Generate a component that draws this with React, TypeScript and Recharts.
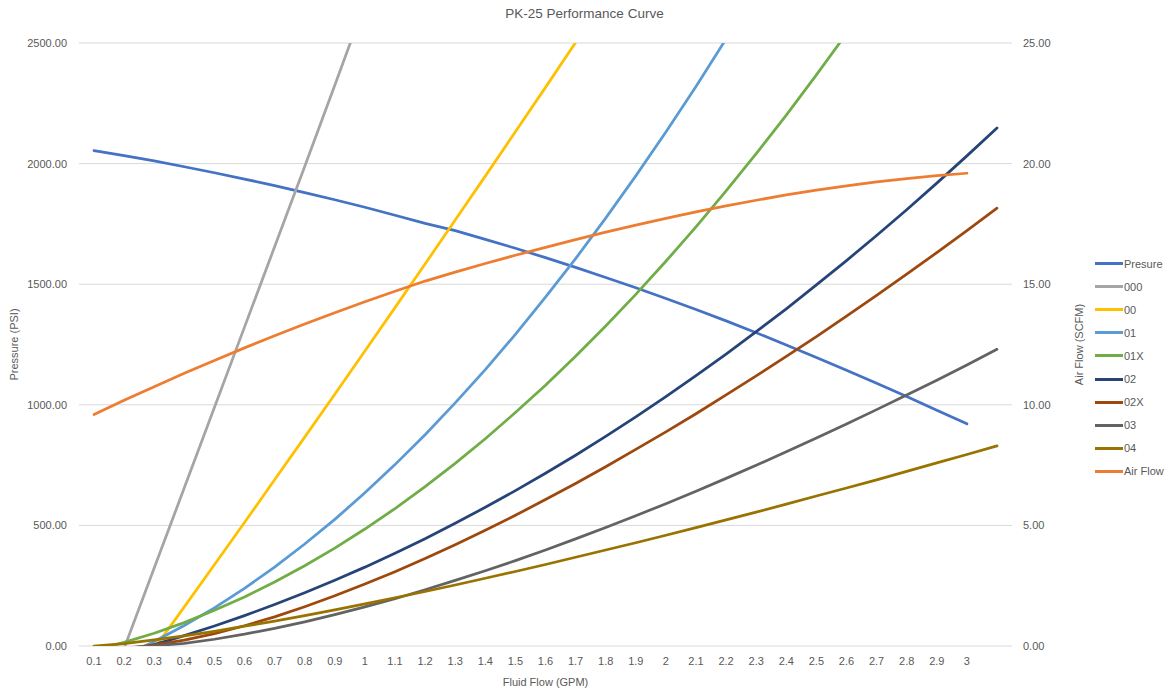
import { LineChart, Line, XAxis, YAxis, CartesianGrid, Legend } from "recharts";

const FONT = '"Liberation Sans", Arial, sans-serif';
const TEXT = "#595959";

// fluid flow (GPM) categories, the last one carries no label
const flow = [
  "0.1", "0.2", "0.3", "0.4", "0.5", "0.6", "0.7", "0.8", "0.9", "1",
  "1.1", "1.2", "1.3", "1.4", "1.5", "1.6", "1.7", "1.8", "1.9", "2",
  "2.1", "2.2", "2.3", "2.4", "2.5", "2.6", "2.7", "2.8", "2.9", "3", "",
];

const presure = [
  2054, 2033, 2011, 1987, 1962, 1936, 1909, 1880, 1850, 1819,
  1786, 1752, 1722, 1686, 1649, 1610, 1570, 1528, 1485, 1441,
  1395, 1348, 1299, 1248, 1196, 1143, 1089, 1034, 977, 921,
];
const n000 = [
  -343, -10, 323, 656, 989, 1322, 1655, 1988, 2325, 2665,
  3010, 3360, 3715, 4075, 4440, 4810, 5185, 5565, 5950, 6340,
  6735, 7135, 7540, 7950, 8365, 8785, 9210, 9640, 10075, 10515, 10960,
];
const n00 = [
  -356, -184, -11, 162, 337, 512, 689, 866, 1044, 1223,
  1403, 1584, 1766, 1948, 2132, 2316, 2502, 2688, 2875, 3063,
  3252, 3442, 3633, 3824, 4017, 4210, 4405, 4600, 4796, 4993, 5191,
];
const n01 = [
  -93, -41, 19, 85, 158, 239, 327, 423, 525, 635,
  752, 876, 1008, 1146, 1292, 1446, 1606, 1774, 1949, 2131,
  2320, 2517, 2721, 2932, 3150, 3376, 3609, 3849, 4096, 4351, 4613,
];
const n01X = [
  -18, 15, 53, 97, 148, 203, 265, 333, 406, 485,
  570, 661, 757, 859, 968, 1081, 1201, 1327, 1458, 1595,
  1738, 1887, 2041, 2201, 2368, 2539, 2717, 2901, 3090, 3285, 3486,
];
const n02 = [
  -59, -28, 6, 43, 83, 126, 172, 221, 273, 327,
  385, 445, 509, 575, 644, 716, 791, 869, 950, 1034,
  1121, 1210, 1303, 1398, 1497, 1598, 1702, 1809, 1919, 2032, 2148,
];
const n02X = [
  -35, -12, 5, 24, 51, 84, 121, 163, 208, 257,
  308, 363, 420, 480, 542, 607, 674, 743, 815, 888,
  963, 1041, 1120, 1201, 1283, 1368, 1454, 1542, 1631, 1722, 1815,
];
const n03 = [
  -25, -8, 1, 11, 28, 49, 73, 100, 130, 162,
  196, 233, 272, 312, 354, 398, 444, 491, 540, 590,
  642, 695, 749, 805, 862, 920, 980, 1041, 1102, 1165, 1230,
];
const n04 = [
  0, 10, 25, 42, 61, 82, 103, 126, 150, 175,
  200, 226, 253, 281, 309, 338, 368, 398, 428, 459,
  491, 523, 555, 588, 622, 655, 689, 724, 759, 794, 830,
];
const airFlow = [
  9.6, 10.19, 10.75, 11.31, 11.84, 12.36, 12.86, 13.35, 13.82, 14.27,
  14.71, 15.13, 15.5, 15.86, 16.2, 16.53, 16.85, 17.16, 17.45, 17.73,
  18.0, 18.25, 18.48, 18.7, 18.9, 19.08, 19.24, 19.38, 19.5, 19.6,
];

const pressureTicks = [0, 500, 1000, 1500, 2000, 2500];
const airTicks = [0, 5, 10, 15, 20, 25];

const seriesList = [
  { name: "Presure", values: presure, color: "#4472C4", axis: "left" },
  { name: "000", values: n000, color: "#A5A5A5", axis: "left" },
  { name: "00", values: n00, color: "#FFC000", axis: "left" },
  { name: "01", values: n01, color: "#5B9BD5", axis: "left" },
  { name: "01X", values: n01X, color: "#70AD47", axis: "left" },
  { name: "02", values: n02, color: "#264478", axis: "left" },
  { name: "02X", values: n02X, color: "#9E480E", axis: "left" },
  { name: "03", values: n03, color: "#636363", axis: "left" },
  { name: "04", values: n04, color: "#997300", axis: "left" },
  { name: "Air Flow", values: airFlow, color: "#ED7D31", axis: "right" },
];

const rows = flow.map((f, i) => {
  const row: any = { flow: f };
  seriesList.forEach((s) => {
    row[s.name] = i < s.values.length ? s.values[i] : null;
  });
  return row;
});

const tickStyle = { fontFamily: FONT, fontSize: 11, fill: TEXT };

const VerticalTitle = (props: any) => {
  const { viewBox, value, dx } = props;
  const x = viewBox.x + dx;
  const y = viewBox.y + viewBox.height / 2;
  return (
    <text
      x={x}
      y={y}
      transform={`rotate(-90, ${x}, ${y})`}
      textAnchor="middle"
      dominantBaseline="central"
      fontFamily={FONT}
      fontSize={11}
      fill={TEXT}
    >
      {value}
    </text>
  );
};

const BottomTitle = (props: any) => {
  const { viewBox } = props;
  return (
    <text
      x={viewBox.x + viewBox.width / 2}
      y={682}
      textAnchor="middle"
      dominantBaseline="central"
      fontFamily={FONT}
      fontSize={11}
      fill={TEXT}
    >
      Fluid Flow (GPM)
    </text>
  );
};

const renderLegend = () => (
  <div style={{ width: 72, fontFamily: FONT, fontSize: 11, color: TEXT }}>
    {seriesList.map((s) => (
      <div key={s.name} style={{ display: "flex", alignItems: "center", height: 23.1 }}>
        <span style={{ display: "inline-block", width: 28, height: 3, background: s.color, marginRight: 1 }} />
        <span>{s.name}</span>
      </div>
    ))}
  </div>
);

export default function App() {
  return (
    <div style={{ position: "absolute", left: 0, top: 0, width: 1169, height: 692, background: "#fff" }}>
      <div
        style={{
          position: "absolute",
          left: 0,
          top: 6,
          width: 1169,
          textAlign: "center",
          fontFamily: FONT,
          fontSize: 13.5,
          color: TEXT,
          zIndex: 2,
        }}
      >
        PK-25 Performance Curve
      </div>
      <LineChart
        width={1169}
        height={692}
        data={rows}
        margin={{ top: 43, right: 10, bottom: 0, left: 0 }}
      >
        <CartesianGrid yAxisId="left" vertical={false} stroke="#D9D9D9" />
        <XAxis
          dataKey="flow"
          interval={0}
          padding={{ left: 15, right: 15 }}
          tickLine={false}
          axisLine={false}
          tickSize={0}
          tickMargin={11}
          height={46}
          tick={tickStyle}
          label={<BottomTitle />}
        />
        <YAxis
          yAxisId="left"
          width={79}
          domain={[0, 2500]}
          ticks={pressureTicks}
          allowDataOverflow
          tickFormatter={(v: number) => v.toFixed(2)}
          tickLine={false}
          axisLine={false}
          tickSize={0}
          tickMargin={12}
          tick={tickStyle}
          label={<VerticalTitle value="Pressure (PSI)" dx={14} />}
        />
        <YAxis
          yAxisId="right"
          orientation="right"
          width={75}
          domain={[0, 25]}
          ticks={airTicks}
          allowDataOverflow
          tickFormatter={(v: number) => v.toFixed(2)}
          tickLine={false}
          axisLine={false}
          tickSize={0}
          tickMargin={11}
          tick={{ ...tickStyle, textAnchor: "start" }}
          label={<VerticalTitle value="Air Flow (SCFM)" dx={67} />}
        />
        <Legend
          layout="vertical"
          align="right"
          verticalAlign="middle"
          content={renderLegend}
          wrapperStyle={{ left: 1095, top: 252, width: 72 }}
        />
        {seriesList.map((s) => (
          <Line
            key={s.name}
            yAxisId={s.axis}
            dataKey={s.name}
            type="linear"
            stroke={s.color}
            strokeWidth={2.75}
            strokeLinecap="round"
            dot={false}
            activeDot={false}
            isAnimationActive={false}
          />
        ))}
      </LineChart>
    </div>
  );
}
